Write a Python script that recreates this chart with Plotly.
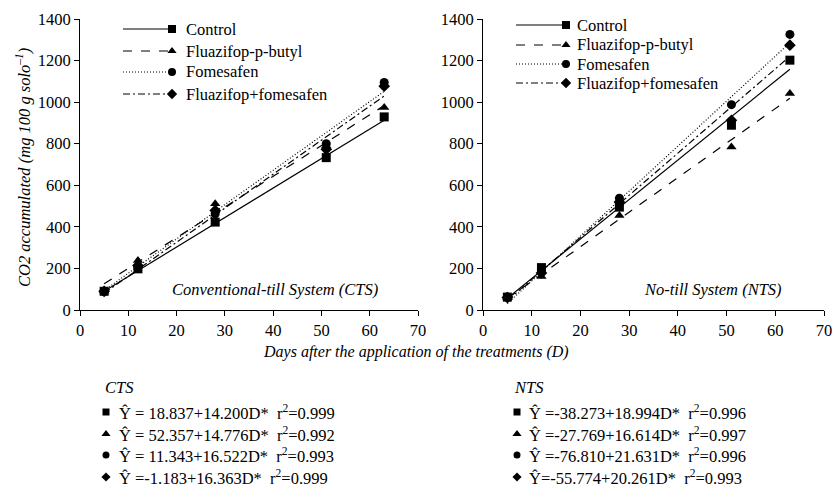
import plotly.graph_objects as go

W, H = 833, 488
FONT = "Liberation Serif"

days = [5, 12, 28, 51, 63]
treatments = ["Control", "Fluazifop-p-butyl", "Fomesafen", "Fluazifop+fomesafen"]

cts_control = [90, 198, 423, 733, 929]
cts_fluazifop = [92, 238, 511, 790, 974]
cts_fomesafen = [90, 206, 463, 800, 1095]
cts_fluaz_fomes = [90, 214, 479, 773, 1077]

nts_control = [62, 204, 495, 889, 1202]
nts_fluazifop = [60, 161, 455, 784, 1041]
nts_fomesafen = [62, 182, 538, 988, 1326]
nts_fluaz_fomes = [60, 178, 519, 913, 1274]

# regression coefficients printed under the chart (intercept, slope)
cts_intercepts = [18.837, 52.357, 11.343, -1.183]
cts_slopes = [14.200, 14.776, 16.522, 16.363]
cts_r2 = ["0.999", "0.992", "0.993", "0.999"]
nts_intercepts = [-38.273, -27.769, -76.810, -55.774]
nts_slopes = [18.994, 16.614, 21.631, 20.261]
nts_r2 = ["0.996", "0.997", "0.996", "0.993"]

NB = "\u00a0"
eq_cts = [NB + "= 18.837+14.200D*", NB + "= 52.357+14.776D*", NB + "= 11.343+16.522D*", NB + "=-1.183+16.363D*"]
eq_nts = [NB + "=-38.273+18.994D*", NB + "=-27.769+16.614D*", NB + "=-76.810+21.631D*", "=-55.774+20.261D*"]

x_ticks = [0, 10, 20, 30, 40, 50, 60, 70]
y_ticks = [0, 200, 400, 600, 800, 1000, 1200, 1400]

symbols = ["square", "triangle-up", "circle", "diamond"]
eq_marker_sizes = [7, 8, 7, 7]
dashes = ["solid", "dash", "1px,2px", "7px,3px,2px,3px"]

cts = [cts_control, cts_fluazifop, cts_fomesafen, cts_fluaz_fomes]
nts = [nts_control, nts_fluazifop, nts_fomesafen, nts_fluaz_fomes]

fig = go.Figure()

def add_panel(data, intercepts, slopes, xa, ya):
    for i in range(4):
        xs = [days[0], days[-1]]
        ys = [intercepts[i] + slopes[i] * d for d in xs]
        fig.add_trace(go.Scatter(x=xs, y=ys, mode="lines", xaxis=xa, yaxis=ya,
                                 line=dict(color="black", width=1.2, dash=dashes[i]),
                                 showlegend=False, hoverinfo="skip"))
    for i in range(4):
        fig.add_trace(go.Scatter(x=days, y=data[i], mode="markers", xaxis=xa, yaxis=ya,
                                 marker=dict(symbol=symbols[i], size=9, color="black"),
                                 name=treatments[i], showlegend=False))

add_panel(cts, cts_intercepts, cts_slopes, "x", "y")
add_panel(nts, nts_intercepts, nts_slopes, "x2", "y2")

shapes = []
annotations = []

def px_x(v):
    return v / W

def px_y(v):
    return 1 - v / H

def txt(x, y, text, size=16.5, xanchor="left", angle=0):
    annotations.append(dict(x=px_x(x), y=px_y(y), xref="paper", yref="paper",
                            text=text, showarrow=False, xanchor=xanchor, yanchor="middle",
                            textangle=angle,
                            font=dict(family=FONT, size=size, color="black")))

def legend_block(x0, x1, xt, rows):
    for i, yy in enumerate(rows):
        shapes.append(dict(type="line", xref="paper", yref="paper",
                           x0=px_x(x0), x1=px_x(x1), y0=px_y(yy), y1=px_y(yy),
                           line=dict(color="black", width=1, dash=dashes[i])))
        fig.add_trace(go.Scatter(x=[x1], y=[yy], mode="markers", xaxis="x3", yaxis="y3",
                                 marker=dict(symbol=symbols[i], size=8, color="black"),
                                 showlegend=False, hoverinfo="skip"))
        txt(xt, yy, treatments[i])

legend_block(123, 172, 184, [29, 51, 72, 94])
legend_block(516, 566, 575, [25, 45, 64, 83])

def eq_block(xlab, xm, xt, title, eqs, r2s):
    txt(xlab, 387, "<i>" + title + "</i>")
    rows = [412, 434, 455, 477]
    for i, yy in enumerate(rows):
        fig.add_trace(go.Scatter(x=[xm], y=[yy], mode="markers", xaxis="x3", yaxis="y3",
                                 marker=dict(symbol=symbols[i], size=eq_marker_sizes[i], color="black"),
                                 showlegend=False, hoverinfo="skip"))
        txt(xt, yy, "Ŷ" + eqs[i] + NB + NB + "r<sup>2</sup>=" + r2s[i])

eq_block(103, 106, 117, "CTS", eq_cts, cts_r2)
eq_block(512, 517, 527, "NTS", eq_nts, nts_r2)

txt(275, 289, "<i>Conventional-till System (CTS)</i>", xanchor="center")
txt(713, 289, "<i>No-till System (NTS)</i>", xanchor="center")
txt(416, 352, "<i>Days after the application of the treatments (D)</i>", size=16, xanchor="center")
txt(24, 168, "<i>CO2 accumulated (mg 100 g solo<sup>–1</sup>)</i>", size=16.5,
    xanchor="center", angle=-90)

yd = [1 - 310 / H, 1 - 19 / H]
xaxis_common = dict(range=[0, 70], tickvals=x_ticks, ticks="outside", ticklen=5,
                    showline=True, linecolor="black", linewidth=1, tickcolor="black",
                    showgrid=False, zeroline=False, automargin=False,
                    tickfont=dict(family=FONT, size=16.5, color="black"))
yaxis_common = dict(range=[0, 1400], tickvals=y_ticks, ticks="outside", ticklen=5,
                    showline=True, linecolor="black", linewidth=1, tickcolor="black",
                    showgrid=False, zeroline=False, domain=yd, automargin=False,
                    tickfont=dict(family=FONT, size=16.5, color="black"))

fig.update_layout(
    template="none",
    width=W, height=H, margin=dict(l=0, r=0, t=0, b=0, pad=0), autosize=False,
    paper_bgcolor="white", plot_bgcolor="rgba(0,0,0,0)", showlegend=False,
    font=dict(family=FONT, color="black"),
    xaxis=dict(domain=[80 / W, 418 / W], anchor="y", **xaxis_common),
    yaxis=dict(anchor="x", **yaxis_common),
    xaxis2=dict(domain=[483 / W, 824 / W], anchor="y2", **xaxis_common),
    yaxis2=dict(anchor="x2", **yaxis_common),
    xaxis3=dict(domain=[0, 1], range=[0, W], visible=False, anchor="y3", fixedrange=True, automargin=False),
    yaxis3=dict(domain=[0, 1], range=[H, 0], visible=False, anchor="x3", fixedrange=True, automargin=False),
    shapes=shapes, annotations=annotations,
)

fig.write_html("out.html", config={"displayModeBar": False},
               post_script="document.body.style.margin='0px';document.body.style.overflow='hidden';")
